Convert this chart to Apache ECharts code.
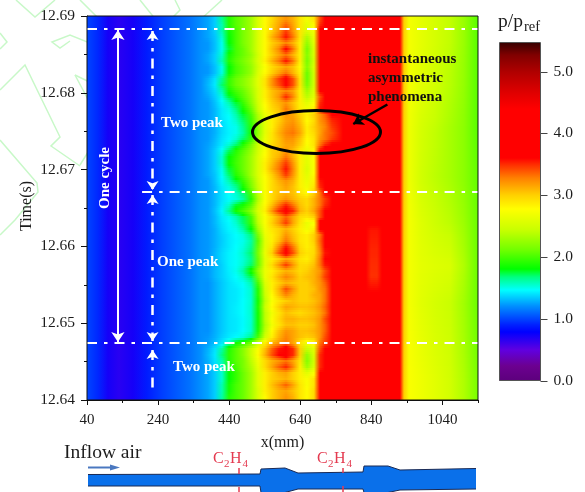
<!DOCTYPE html>
<html><head><meta charset="utf-8">
<style>html,body{margin:0;padding:0;background:#fff}#c{width:585px;height:492px}</style>
<script src="https://cdn.jsdelivr.net/npm/echarts@6/dist/echarts.min.js"></script>
</head><body><div id="c"></div>
<script>
const xTicks=[40,240,440,640,840,1040];
const xMinorTicks=[140,340,540,740,940,1140];
const tTicks=[12.64,12.65,12.66,12.67,12.68,12.69];
const tMinorTicks=[12.645,12.655,12.665,12.675,12.685];
const barTicks=[0,1,2,3,4,5];

const colormapValues=[0,.23,.5,.78,.9,1.2,1.47,1.68,1.8,2.12,2.44,2.78,3,3.27,3.48,3.6,4.4,4.66,5,5.26,5.47];
const colormapColors=['#5c007c','#6c0090','#6000e0','#0000ff','#0020ff','#0090ff','#00ffff','#00ff80','#00ff00','#70ff00','#c8ff00','#ffff00','#ffd000','#ff8000','#ff3000','#ff0000','#ff0000','#e00000','#b00000','#800000','#3a0000'];

const upstreamX=[40,70,100,130,170,210,250,290,330,360];
const upstreamP=[1.0,.92,.72,.66,.72,.88,.98,1.05,1.12,1.2];

const coreX=[360,380,400,420,440,460,480,500,520,540,560,580,600,620,640,660,680,695,710,730,760];
const coreP=[
[1.2,1.25,1.35,1.65,1.9,2.05,2.15,2.3,2.55,2.8,2.95,3.1,3.2,3.1,2.9,2.7,2.9,3.4,3.7,3.85,3.9],
[1.2,1.25,1.35,1.6,1.9,2.05,2.15,2.3,2.55,2.8,3.0,3.15,3.35,3.15,2.9,2.6,2.8,3.5,3.75,3.9,3.9],
[1.2,1.25,1.35,1.6,1.85,2.0,2.15,2.3,2.55,2.8,3.0,3.2,3.45,3.2,2.9,2.55,2.7,3.65,3.85,3.9,3.9],
[1.2,1.25,1.33,1.55,1.82,2.0,2.15,2.3,2.55,2.8,3.1,3.3,3.55,3.3,2.9,2.35,2.65,3.7,3.85,3.9,3.9],
[1.2,1.22,1.32,1.5,1.8,2.0,2.15,2.3,2.55,2.8,3.0,3.1,3.25,3.1,2.85,2.25,2.6,3.7,3.85,3.9,3.9],
[1.2,1.22,1.32,1.5,1.75,2.0,2.1,2.3,2.55,2.8,3.05,3.25,3.6,3.3,2.85,2.15,2.55,3.75,3.9,3.9,3.9],
[1.2,1.25,1.35,1.55,1.85,2.0,2.1,2.25,2.5,2.8,3.0,3.15,3.3,3.1,2.85,2.2,2.55,3.75,3.9,3.9,3.9],
[1.2,1.25,1.35,1.6,1.9,2.05,2.15,2.3,2.55,2.85,3.1,3.3,3.55,3.3,2.85,2.15,2.5,3.75,3.9,3.9,3.9],
[1.2,1.22,1.32,1.5,1.8,2.0,2.1,2.25,2.5,2.75,2.95,3.05,3.15,3.05,2.8,2.2,2.55,3.7,3.85,3.9,3.9],
[1.2,1.22,1.32,1.52,1.82,2.0,2.1,2.25,2.55,2.8,3.0,3.15,3.3,3.1,2.85,2.1,2.5,3.7,3.85,3.9,3.9],
[1.2,1.28,1.4,1.65,1.95,2.1,2.2,2.35,2.6,2.9,3.2,3.45,3.7,3.4,2.9,2.1,2.5,3.65,3.85,3.9,3.9],
[1.2,1.3,1.42,1.7,1.95,2.1,2.2,2.35,2.6,2.9,3.2,3.4,3.65,3.4,2.9,2.15,2.5,3.65,3.85,3.9,3.9],
[1.2,1.28,1.38,1.6,1.85,2.0,2.1,2.3,2.55,2.85,3.05,3.15,3.25,3.15,2.85,2.3,2.55,3.6,3.8,3.9,3.9],
[1.2,1.25,1.35,1.52,1.75,1.9,2.05,2.25,2.55,2.85,3.05,3.2,3.5,3.25,2.85,2.4,2.6,3.4,3.7,3.85,3.9],
[1.2,1.22,1.32,1.45,1.6,1.75,1.95,2.2,2.5,2.8,3.0,3.1,3.2,3.05,2.85,2.6,2.75,3.5,3.7,3.85,3.9],
[1.2,1.22,1.3,1.42,1.52,1.68,1.85,2.1,2.45,2.75,2.95,3.05,3.3,3.1,2.85,2.7,2.85,3.55,3.75,3.9,3.9],
[1.2,1.22,1.3,1.42,1.48,1.6,1.75,2.0,2.35,2.65,2.85,3.0,3.2,3.15,3.0,2.85,3.0,3.2,3.35,3.6,3.9],
[1.2,1.22,1.3,1.4,1.46,1.55,1.7,1.95,2.3,2.6,2.85,3.0,3.15,3.2,3.05,2.8,2.95,3.2,3.3,3.5,3.85],
[1.2,1.22,1.28,1.38,1.45,1.5,1.65,1.9,2.25,2.6,2.85,3.05,3.2,3.25,3.1,2.85,3.0,3.15,3.25,3.45,3.8],
[1.2,1.22,1.28,1.38,1.44,1.5,1.62,1.85,2.25,2.6,2.9,3.1,3.25,3.3,3.15,2.85,2.95,3.15,3.3,3.4,3.8],
[1.2,1.22,1.3,1.4,1.46,1.55,1.7,1.95,2.3,2.65,2.9,3.05,3.2,3.2,3.05,2.8,2.9,3.2,3.3,3.45,3.85],
[1.2,1.24,1.32,1.42,1.55,1.7,1.9,2.15,2.45,2.7,2.95,3.05,3.15,3.15,3.0,2.75,2.9,3.3,3.5,3.65,3.9],
[1.2,1.25,1.35,1.5,1.72,1.9,2.05,2.25,2.5,2.75,3.0,3.05,3.2,3.05,2.85,2.65,2.8,3.6,3.8,3.9,3.9],
[1.2,1.25,1.35,1.55,1.8,1.95,2.1,2.3,2.55,2.8,3.0,3.1,3.3,3.1,2.85,2.6,2.75,3.7,3.85,3.9,3.9],
[1.2,1.25,1.35,1.55,1.82,1.98,2.1,2.3,2.55,2.85,3.05,3.25,3.45,3.2,2.85,2.6,2.75,3.7,3.85,3.9,3.9],
[1.2,1.25,1.35,1.5,1.75,1.95,2.1,2.3,2.55,2.85,3.1,3.3,3.55,3.25,2.85,2.55,2.75,3.7,3.85,3.9,3.9],
[1.2,1.25,1.33,1.48,1.7,1.9,2.05,2.3,2.55,2.8,3.0,3.2,3.45,3.2,2.85,2.6,2.8,3.65,3.85,3.9,3.9],
[1.2,1.22,1.32,1.45,1.6,1.75,1.95,2.2,2.5,2.75,2.95,3.1,3.2,3.1,2.85,2.65,2.85,3.55,3.8,3.9,3.9],
[1.2,1.22,1.3,1.42,1.52,1.65,1.85,2.15,2.45,2.75,2.95,3.05,3.15,3.05,2.85,2.7,2.9,3.5,3.75,3.9,3.9],
[1.2,1.22,1.3,1.4,1.48,1.55,1.7,2.0,2.4,2.75,2.95,3.05,3.1,3.05,2.9,2.8,3.0,3.3,3.6,3.85,3.9],
[1.2,1.22,1.3,1.4,1.46,1.52,1.62,1.9,2.35,2.75,2.95,3.1,3.2,3.1,3.0,2.95,3.1,3.3,3.45,3.75,3.9],
[1.2,1.22,1.3,1.42,1.55,1.75,1.85,2.05,2.45,2.8,3.05,3.3,3.5,3.3,3.05,2.95,3.1,3.3,3.5,3.8,3.9],
[1.2,1.22,1.32,1.45,1.65,1.85,2.0,2.2,2.55,2.85,3.2,3.5,3.7,3.5,3.1,3.0,3.15,3.4,3.6,3.85,3.9],
[1.2,1.22,1.3,1.42,1.5,1.6,1.72,2.0,2.45,2.75,2.95,3.15,3.35,3.15,2.95,2.9,3.0,3.4,3.7,3.85,3.9],
[1.2,1.22,1.3,1.4,1.46,1.55,1.7,1.95,2.4,2.75,3.0,3.2,3.45,3.15,2.9,2.65,2.75,3.7,3.85,3.9,3.9],
[1.2,1.22,1.28,1.38,1.45,1.5,1.62,1.8,2.3,2.7,2.9,3.0,3.1,3.0,2.85,2.7,2.85,3.65,3.85,3.9,3.9],
[1.2,1.22,1.28,1.36,1.42,1.47,1.52,1.68,2.15,2.65,2.85,3.0,3.2,3.05,2.9,2.85,3.0,3.3,3.6,3.8,3.9],
[1.2,1.22,1.28,1.35,1.42,1.46,1.5,1.62,2.05,2.6,2.85,3.05,3.3,3.1,2.9,2.85,3.0,3.35,3.6,3.85,3.9],
[1.2,1.22,1.28,1.36,1.42,1.47,1.52,1.65,2.1,2.6,2.9,3.25,3.55,3.3,2.95,2.85,2.95,3.3,3.6,3.85,3.9],
[1.2,1.22,1.3,1.38,1.44,1.48,1.55,1.7,2.15,2.65,3.0,3.4,3.75,3.4,3.0,2.9,2.95,3.25,3.55,3.85,3.9],
[1.2,1.22,1.3,1.38,1.44,1.48,1.53,1.66,2.1,2.6,2.85,3.0,3.15,3.05,2.9,2.85,3.0,3.3,3.6,3.85,3.9],
[1.2,1.22,1.28,1.36,1.44,1.48,1.55,1.7,2.1,2.6,2.95,3.2,3.45,3.2,2.95,2.95,3.05,3.3,3.55,3.8,3.9],
[1.2,1.22,1.3,1.36,1.43,1.5,1.62,1.85,2.25,2.65,2.85,3.0,3.1,3.05,2.95,3.0,3.1,3.2,3.4,3.75,3.9],
[1.2,1.22,1.3,1.36,1.42,1.47,1.55,1.72,2.15,2.65,2.9,3.1,3.25,3.15,3.0,3.05,3.1,3.25,3.45,3.7,3.9],
[1.2,1.2,1.27,1.34,1.4,1.44,1.48,1.6,2.0,2.55,2.85,3.0,3.1,3.05,3.0,3.0,3.1,3.2,3.35,3.75,3.9],
[1.2,1.2,1.27,1.34,1.4,1.42,1.46,1.55,1.9,2.5,2.85,3.1,3.4,3.2,3.0,3.0,3.05,3.2,3.3,3.7,3.9],
[1.2,1.2,1.27,1.34,1.4,1.42,1.46,1.55,1.9,2.45,2.8,3.05,3.25,3.1,3.0,3.0,3.1,3.15,3.3,3.65,3.9],
[1.2,1.2,1.27,1.34,1.4,1.42,1.47,1.54,1.85,2.4,2.75,2.9,3.0,3.05,3.0,3.0,3.05,3.15,3.3,3.65,3.9],
[1.2,1.2,1.27,1.34,1.4,1.43,1.47,1.55,1.88,2.45,2.8,3.0,3.15,3.1,3.05,3.05,3.1,3.2,3.35,3.7,3.9],
[1.2,1.2,1.27,1.34,1.4,1.43,1.47,1.55,1.85,2.4,2.7,2.9,3.05,3.0,2.95,3.0,3.05,3.15,3.3,3.65,3.9],
[1.2,1.2,1.27,1.34,1.4,1.42,1.46,1.54,1.85,2.4,2.75,2.95,3.1,3.1,3.05,3.05,3.1,3.2,3.4,3.7,3.9],
[1.2,1.2,1.27,1.34,1.4,1.42,1.46,1.55,1.85,2.35,2.7,2.9,3.05,3.05,3.0,3.0,3.05,3.2,3.35,3.7,3.9],
[1.2,1.2,1.27,1.34,1.4,1.42,1.47,1.55,1.88,2.4,2.8,3.05,3.2,3.15,3.05,3.05,3.1,3.2,3.35,3.7,3.9],
[1.2,1.22,1.28,1.36,1.42,1.46,1.52,1.65,2.0,2.5,2.85,3.1,3.25,3.15,3.05,3.0,3.05,3.2,3.4,3.75,3.9],
[1.2,1.24,1.32,1.42,1.6,1.85,1.95,2.15,2.5,2.85,3.1,3.2,3.3,3.15,2.9,2.7,2.8,3.3,3.45,3.65,3.9],
[1.2,1.28,1.4,1.62,1.9,2.05,2.2,2.45,2.75,3.05,3.35,3.55,3.75,3.5,3.0,2.45,2.6,3.4,3.6,3.8,3.9],
[1.2,1.3,1.42,1.68,1.92,2.05,2.2,2.45,2.8,3.1,3.4,3.6,3.75,3.5,3.0,2.25,2.55,3.5,3.65,3.85,3.9],
[1.2,1.28,1.4,1.6,1.9,2.05,2.15,2.4,2.7,2.95,3.1,3.2,3.3,3.15,2.9,2.2,2.5,3.5,3.7,3.85,3.9],
[1.2,1.26,1.38,1.55,1.85,2.0,2.15,2.35,2.65,2.95,3.15,3.35,3.5,3.25,2.85,2.3,2.55,3.5,3.7,3.85,3.9],
[1.2,1.25,1.35,1.55,1.8,1.95,2.1,2.3,2.6,2.85,3.0,3.1,3.15,3.0,2.85,2.6,2.75,3.6,3.8,3.9,3.9],
[1.2,1.25,1.35,1.55,1.8,1.95,2.1,2.3,2.6,2.85,3.0,3.05,3.1,3.0,2.85,2.75,2.9,3.75,3.85,3.9,3.9],
[1.2,1.25,1.35,1.6,1.85,2.0,2.1,2.3,2.6,2.85,3.05,3.2,3.35,3.15,2.9,2.75,2.9,3.75,3.85,3.9,3.9],
[1.2,1.25,1.35,1.6,1.85,2.0,2.1,2.3,2.55,2.85,3.0,3.1,3.15,3.05,2.9,2.8,2.95,3.75,3.85,3.9,3.9],
[1.2,1.25,1.35,1.62,1.9,2.0,2.1,2.3,2.55,2.8,3.0,3.1,3.2,3.1,2.9,2.8,2.95,3.75,3.85,3.9,3.9]
];
const coreTimeStart=12.69, coreTimeStep=0.00078125;

const downX=[760,800,860,920,932,945,980,1020,1060,1100,1140];
const downTimes=[12.69,12.684,12.678,12.672,12.666,12.66,12.655,12.65,12.645,12.64];
const downP=[
[3.9,3.9,3.9,3.85,3.0,2.72,2.62,2.52,2.42,2.27,2.05],
[3.9,3.9,3.9,3.85,3.0,2.72,2.6,2.5,2.38,2.25,2.05],
[3.9,3.9,3.9,3.85,3.0,2.68,2.52,2.42,2.32,2.22,2.05],
[3.9,3.9,3.9,3.85,3.0,2.68,2.5,2.4,2.32,2.22,2.08],
[3.9,3.9,3.9,3.85,3.0,2.72,2.58,2.48,2.4,2.28,2.1],
[3.9,3.9,3.9,3.85,3.0,2.72,2.62,2.58,2.55,2.35,2.1],
[3.9,3.9,3.9,3.85,3.0,2.72,2.6,2.52,2.45,2.3,2.1],
[3.9,3.9,3.9,3.85,3.0,2.74,2.64,2.55,2.48,2.32,2.12],
[3.9,3.9,3.9,3.85,3.0,2.75,2.68,2.6,2.5,2.35,2.15]
];

const patchX=[825,840,855,870];
const patchTimes=[12.668,12.6645,12.6598,12.6525,12.649];
const patchP=[
[3.9,3.9,3.9,3.9],
[3.65,3.55,3.55,3.65],
[3.62,3.48,3.48,3.62],
[3.9,3.9,3.9,3.9]
];

const cycleTimes=[12.6883,12.6671,12.6474];

function pressureColor(v){
  let i=1;
  while(i<colormapValues.length-1&&v>colormapValues[i])i++;
  const a=colormapValues[i-1],b=colormapValues[i];
  const f=Math.max(0,Math.min(1,(v-a)/(b-a)));
  return echarts.color.lerp(f,[colormapColors[i-1],colormapColors[i]]);
}
function cells(xs,t0s,t1s,rows){
  const out=[];
  rows.forEach((r,k)=>{
    const up=rows[k-1]||r,dn=rows[k+1]||r;
    for(let i=0;i+1<xs.length;i++)out.push([xs[i],xs[i+1],t0s(k),t1s(k),r[i],r[i+1],up[i],up[i+1],dn[i],dn[i+1]]);
  });
  return out;
}
const cellData=[
  ...cells(upstreamX,()=>12.69,()=>12.64,[upstreamP]),
  ...cells(coreX,k=>coreTimeStart-k*coreTimeStep,k=>coreTimeStart-(k+1)*coreTimeStep,coreP),
  ...cells(downX,k=>downTimes[k],k=>downTimes[k+1],downP),
  ...cells(patchX,k=>patchTimes[k],k=>patchTimes[k+1],patchP)
];
// Each cell is painted in thin strips that shade toward the rows above and below, so rows do not show as blocks.
function renderCell(p,api){
  const a=api.coord([api.value(0),api.value(2)]),b=api.coord([api.value(1),api.value(3)]);
  const x=Math.round(a[0]),y=Math.round(a[1]),w=Math.round(b[0])-x,h=Math.round(b[1])-y;
  const v=[4,5,6,7,8,9].map(i=>api.value(i));
  const flat=v[2]===v[0]&&v[3]===v[1]&&v[4]===v[0]&&v[5]===v[1];
  const n=flat?1:Math.max(1,Math.round(h/2));
  const children=[];
  for(let i=0;i<n;i++){
    const s=(i+.5)/n;
    let l,r;
    if(s<.5){const f=s+.5;l=v[2]+(v[0]-v[2])*f;r=v[3]+(v[1]-v[3])*f;}
    else{const f=s-.5;l=v[0]+(v[4]-v[0])*f;r=v[1]+(v[5]-v[1])*f;}
    const y0=y+Math.round(h*i/n),y1=y+Math.round(h*(i+1)/n);
    children.push({type:'rect',shape:{x,y:y0,width:w,height:y1-y0},style:{fill:new echarts.graphic.LinearGradient(0,0,1,0,[
      {offset:0,color:pressureColor(l)},{offset:1,color:pressureColor(r)}])}});
  }
  return {type:'group',children};
}
const barData=[];
for(let i=0;i+1<colormapValues.length;i++)barData.push([0,1,colormapValues[i],colormapValues[i+1],colormapColors[i],colormapColors[i+1]]);
function renderBar(p,api){
  const a=api.coord([0,api.value(3)]),b=api.coord([1,api.value(2)]);
  const top=Math.round(a[1]),bot=Math.round(b[1]);
  return {type:'rect',shape:{x:a[0],y:top,width:b[0]-a[0],height:bot-top},style:{fill:new echarts.graphic.LinearGradient(0,0,0,1,[
    {offset:0,color:barData[p.dataIndex][5]},{offset:1,color:barData[p.dataIndex][4]}])}};
}
function renderBarTick(p,api){
  const a=api.coord([1,api.value(0)]);
  const y=Math.round(a[1])+.5;
  return {type:'line',shape:{x1:a[0],y1:y,x2:a[0]+7,y2:y},style:{stroke:'#444',lineWidth:1}};
}
const SERIF='"Liberation Serif",serif';
const INK='#1c1c1c';
function txt(text,x,y,size,opt){
  opt=opt||{};
  return {type:'text',z:100,x,y,rotation:opt.rot||0,silent:true,style:{text,fill:opt.fill||INK,font:(opt.bold?'bold ':'')+size+'px '+SERIF,textAlign:opt.align||'left',textVerticalAlign:'middle',textBaseline:'middle'}};
}
function poly(points,stroke,w,z){
  return {type:'polyline',z:z,silent:true,shape:{points},style:{stroke,lineWidth:w,fill:null}};
}
const WM='#c8f8c8';
const RED='#e43a50';
const ductTop=[[88,474.5],[260,474],[261,469],[285,468],[298,473],[363,472],[364,466],[388,466],[400,470],[476,468.5]];
const ductBot=[[476,489],[400,490],[388,492.5],[364,492.5],[363,489],[298,489],[285,492.5],[261,492.5],[260,486],[88,486]];
const graphics=[
  poly([[16,0],[35,17],[55,0]],WM,1.5,0),
  poly([[0,33],[7,42],[0,49]],WM,1.5,0),
  poly([[0,90],[25,65],[60,137],[51,146],[80,166]],WM,1.5,0),
  poly([[75,75],[100,122],[100,133],[80,165]],WM,1.5,0),
  poly([[0,140],[37,183],[38,192],[15,220],[0,235]],WM,1.5,0),
  poly([[80,0],[140,60],[137,62],[70,35],[52,42],[60,48],[70,41]],WM,1.5,0),
  poly([[75,75],[120,97],[133,100],[163,70],[160,25],[140,0]],WM,1.5,0),
  poly([[165,25],[180,10],[175,0]],WM,1.5,0),
  poly([[200,20],[222,0]],WM,1.5,0),
  {type:'ellipse',z:100,silent:true,shape:{cx:316.5,cy:132,rx:64,ry:21.5},style:{stroke:'#000',lineWidth:3,fill:null}},
  txt('Time(s)',27,206,16,{rot:Math.PI/2,align:'center'}),
  txt('instantaneous',368,59,15,{bold:true,fill:'#111'}),
  txt('asymmetric',368,78,15,{bold:true,fill:'#111'}),
  txt('phenomena',368,97,15,{bold:true,fill:'#111'}),
  txt('Two peak',161,123,15,{bold:true,fill:'#fff'}),
  txt('One peak',157,262,15,{bold:true,fill:'#fff'}),
  txt('Two peak',173,367,15,{bold:true,fill:'#fff'}),
  txt('One cycle',105,178,15,{bold:true,fill:'#fff',rot:Math.PI/2,align:'center'}),
  txt('p/p',498,22,19.5),
  txt('ref',524,27,14.5),
  {type:'rect',z:100,silent:true,shape:{x:499.5,y:42.5,width:41,height:338},style:{stroke:'#555',lineWidth:1,fill:null}},
  txt('Inflow air',64,453,19.5),
  {type:'polygon',z:50,silent:true,shape:{points:ductTop.concat(ductBot)},style:{fill:'#0a70ea'}},
  poly(ductTop,'#1a2a55',1,51),
  poly(ductBot,'#1a2a55',1,51),
  poly([[88,467.5],[112,467.5]],'#4a78c0',2,52),
  {type:'polygon',z:52,silent:true,shape:{points:[[120,467.5],[110,464.5],[110,470.5]]},style:{fill:'#4a78c0'}},
  poly([[239,468],[239,474]],RED,1.5,53),
  poly([[239,487],[239,492]],RED,1.5,53),
  poly([[343,468],[343,473]],RED,1.5,53),
  poly([[343,486],[343,492]],RED,1.5,53),
  txt('C',213,459,16,{fill:RED}),txt('2',224,464,11,{fill:RED}),txt('H',230,459,16,{fill:RED}),txt('4',242.5,464,11,{fill:RED}),
  txt('C',317,459,16,{fill:RED}),txt('2',328,464,11,{fill:RED}),txt('H',334,459,16,{fill:RED}),txt('4',346.5,464,11,{fill:RED})
];
const dash=[10,7,3.5,7];
function seg(x0,t0,x1,t1){return [{coord:[x0,t0]},{coord:[x1,t1]}];}
const lab={show:false};
function overlay(name,width,type,color,sym,size,data){
  return {type:'line',name,xAxisIndex:0,yAxisIndex:0,data:[],silent:true,z:20,
    markLine:{silent:true,animation:false,symbol:sym,symbolSize:size,label:lab,lineStyle:{color,width,type},emphasis:{disabled:true},data}};
}
const chart=echarts.init(document.getElementById('c'),null,{renderer:'canvas'});
const axisLab=s=>({fontFamily:SERIF,fontSize:s,color:INK});
chart.setOption({
  animation:false,
  backgroundColor:'#fff',
  graphic:{elements:graphics},
  grid:[
    {left:87,top:16,width:391,height:384,show:true,borderColor:'#111',borderWidth:1,backgroundColor:'transparent',z:30},
    {left:499.5,top:42.5,width:41,height:338,show:false}
  ],
  xAxis:[
    {type:'value',gridIndex:0,min:40,max:1140,position:'bottom',splitLine:{show:false},
     name:'x(mm)',nameLocation:'middle',nameGap:35,nameTextStyle:axisLab(16),
     axisLine:{show:true,lineStyle:{color:'#111'}},
     axisTick:{show:true,length:5,lineStyle:{color:'#111'},customValues:xTicks},
     axisLabel:{...axisLab(15),margin:13,customValues:xTicks,formatter:v=>String(v)}},
    {type:'value',gridIndex:0,min:40,max:1140,position:'bottom',splitLine:{show:false},
     axisLine:{show:false},axisTick:{show:true,length:3,lineStyle:{color:'#111'},customValues:xMinorTicks},axisLabel:{show:false}},
    {type:'value',gridIndex:1,min:0,max:1,show:false}
  ],
  yAxis:[
    {type:'value',gridIndex:0,min:12.64,max:12.69,position:'left',splitLine:{show:false},
     axisLine:{show:true,lineStyle:{color:'#111'}},
     axisTick:{show:true,length:6,lineStyle:{color:'#111'},customValues:tTicks},
     axisLabel:{...axisLab(15.5),margin:12,customValues:tTicks,formatter:v=>v.toFixed(2)}},
    {type:'value',gridIndex:0,min:12.64,max:12.69,position:'left',splitLine:{show:false},
     axisLine:{show:false},axisTick:{show:true,length:3,lineStyle:{color:'#111'},customValues:tMinorTicks},axisLabel:{show:false}},
    {type:'value',gridIndex:1,min:0,max:5.47,position:'right',splitLine:{show:false},
     axisLine:{show:false},
     axisTick:{show:false},
     axisLabel:{...axisLab(15.5),margin:13,customValues:barTicks,formatter:v=>v.toFixed(1)}}
  ],
  series:[
    {type:'custom',name:'p/pref',xAxisIndex:0,yAxisIndex:0,data:cellData,renderItem:renderCell,encode:{x:[0,1],y:[2,3]},silent:true,progressive:0,z:2,clip:true},
    {type:'custom',name:'colorbar',xAxisIndex:2,yAxisIndex:2,data:barData.map(r=>r.slice(0,4)),renderItem:renderBar,encode:{x:[0,1],y:[2,3]},silent:true,z:2},
    {type:'custom',name:'colorbar ticks',xAxisIndex:2,yAxisIndex:2,data:barTicks.map(v=>[v]),renderItem:renderBarTick,encode:{y:0},silent:true,clip:false,z:3},
    overlay('cycle boundaries',2.2,dash,'#fff','none',0,[
      seg(40,cycleTimes[0],1140,cycleTimes[0]),
      seg(195,cycleTimes[1],1140,cycleTimes[1]),
      seg(40,cycleTimes[2],1140,cycleTimes[2])]),
    overlay('phase',2.5,dash,'#fff',['arrow','arrow'],9,[
      seg(224.5,12.68805,224.5,12.66734),
      seg(224.5,12.66669,224.5,12.64768)]),
    overlay('phase end',2.5,dash,'#fff',['arrow','none'],9,[
      seg(224.5,12.6465,224.5,12.64091)]),
    overlay('one cycle',2,'solid','#fff',['arrow','arrow'],10,[
      seg(127,12.68818,127,12.64755)]),
    overlay('pointer',2.5,'solid','#000',['none','arrow'],10,[
      seg(885,12.67848,789,12.67594)])
  ]
});
</script></body></html>
